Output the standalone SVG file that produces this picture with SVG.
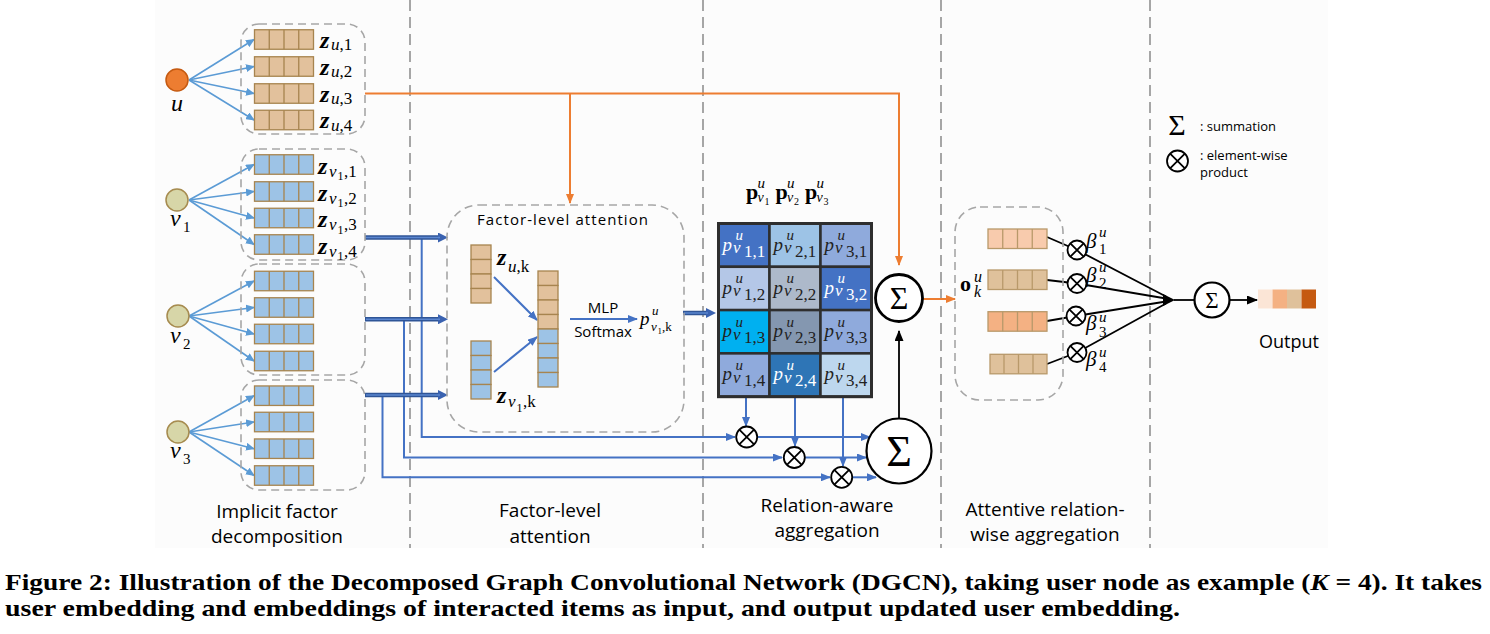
<svg xmlns="http://www.w3.org/2000/svg" xmlns:xlink="http://www.w3.org/1999/xlink" width="1490" height="634" viewBox="0 0 1490 634">
<style>
.dash{fill:none;stroke:#A6A6A6;stroke-width:1.6;stroke-dasharray:8 5}
.vdash{fill:none;stroke:#A6A6A6;stroke-width:2;stroke-dasharray:11 6}
.na{stroke:#5B9BD5;stroke-width:1.6;fill:none;marker-end:url(#ab)}
.thick{stroke:#2F5597;stroke-width:4.5;fill:none;marker-end:url(#at)}
.thin-in{stroke:#5B86D0;stroke-width:1.5;fill:none}
.link{stroke:#4472C4;stroke-width:2;fill:none}
.orange{stroke:#ED7D31;stroke-width:2;fill:none}
.blk{stroke:#000;stroke-width:1.8;fill:none}
.zb{font-family:"Liberation Serif","Times New Roman",Tinos,serif;font-weight:bold;font-style:italic;font-size:24px;fill:#000}
.mi{font-family:"Liberation Serif","Times New Roman",Tinos,serif;font-style:italic;fill:#000}
.mr{font-family:"Liberation Serif","Times New Roman",Tinos,serif;font-style:normal}
.sans{font-family:"Open Sans","Liberation Sans",sans-serif;fill:#000}
.lab{font-family:"Open Sans","Liberation Sans",sans-serif;font-size:19px;fill:#000;text-anchor:middle}
.cell{stroke:#2E2E2E;stroke-width:2.5}
.ct{font-family:"Liberation Serif","Times New Roman",Tinos,serif;font-style:italic;font-size:19px}
.sig{font-family:"Liberation Serif","Times New Roman",Tinos,serif;text-anchor:middle;fill:#000}
.cap{font-family:"Liberation Serif","Times New Roman",Tinos,serif;font-weight:bold;font-size:24px;fill:#000}
.hb{font-family:"Liberation Serif","Times New Roman",Tinos,serif;font-weight:bold;font-size:22px}
</style>
<defs>
<marker id="ab" markerUnits="userSpaceOnUse" markerWidth="9" markerHeight="8" refX="8" refY="4" orient="auto"><path d="M0,0 L9,4 L0,8 z" fill="#5B9BD5"/></marker>
<marker id="al" markerUnits="userSpaceOnUse" markerWidth="10" markerHeight="8" refX="9" refY="4" orient="auto"><path d="M0,0 L10,4 L0,8 z" fill="#4472C4"/></marker>
<marker id="ao" markerUnits="userSpaceOnUse" markerWidth="10" markerHeight="8" refX="9" refY="4" orient="auto"><path d="M0,0 L10,4 L0,8 z" fill="#ED7D31"/></marker>
<marker id="ak" markerUnits="userSpaceOnUse" markerWidth="11" markerHeight="9" refX="10" refY="4.5" orient="auto"><path d="M0,0 L11,4.5 L0,9 z" fill="#000"/></marker>
<marker id="at" markerUnits="userSpaceOnUse" markerWidth="10" markerHeight="10" refX="2" refY="5" orient="auto"><path d="M0,0 L10,5 L0,10 z" fill="#3A62B0"/></marker>
<g id="vt">
<rect x="0" y="0" width="59" height="19.5" fill="#E2C19C" stroke="#A7844F" stroke-width="1.3"/>
<path d="M14.75,0 V19.5 M29.5,0 V19.5 M44.25,0 V19.5" stroke="#A7844F" stroke-width="1.3"/>
</g>
<g id="vb">
<rect x="0" y="0" width="59" height="19.5" fill="#9DC3E6" stroke="#A7844F" stroke-width="1.3"/>
<path d="M14.75,0 V19.5 M29.5,0 V19.5 M44.25,0 V19.5" stroke="#A7844F" stroke-width="1.3"/>
</g>
<g id="ot">
<circle cx="0" cy="0" r="10.5" fill="#fff" stroke="#000" stroke-width="1.8"/>
<path d="M-7.4,-7.4 L7.4,7.4 M-7.4,7.4 L7.4,-7.4" stroke="#000" stroke-width="1.8"/>
</g>
<g id="ots">
<circle cx="0" cy="0" r="9.5" fill="#fff" stroke="#000" stroke-width="1.8"/>
<path d="M-6.7,-6.7 L6.7,6.7 M-6.7,6.7 L6.7,-6.7" stroke="#000" stroke-width="1.8"/>
</g>
</defs>

<rect x="0" y="0" width="1490" height="634" fill="#fff"/>
<rect x="155" y="0" width="1173" height="548" fill="#FCFCFC"/>

<g id="separators">
<line class="vdash" x1="410" y1="0" x2="410" y2="548"/>
<line class="vdash" x1="703" y1="0" x2="703" y2="548"/>
<line class="vdash" x1="941" y1="0" x2="941" y2="548"/>
<line class="vdash" x1="1150" y1="0" x2="1150" y2="548"/>
</g>

<g id="connectors">
<path class="na" d="M189,80 L254,39.5"/>
<path class="na" d="M189,80 L254,66.5"/>
<path class="na" d="M189,80 L254,93.5"/>
<path class="na" d="M189,80 L254,120"/>
<path class="na" d="M189,200 L254,164.5"/>
<path class="na" d="M189,200 L254,191.5"/>
<path class="na" d="M189,200 L254,218"/>
<path class="na" d="M189,200 L254,244.5"/>
<path class="na" d="M189,316 L254,281"/>
<path class="na" d="M189,316 L254,307.5"/>
<path class="na" d="M189,316 L254,334"/>
<path class="na" d="M189,316 L254,361"/>
<path class="na" d="M189,432 L254,395.7"/>
<path class="na" d="M189,432 L254,422"/>
<path class="na" d="M189,432 L254,448.7"/>
<path class="na" d="M189,432 L254,475.5"/>
<path class="orange" d="M365,93.5 H899 V265" marker-end="url(#ao)"/>
<path class="orange" d="M570,93.5 V203" marker-end="url(#ao)"/>
<path class="orange" d="M923,299 H955" marker-end="url(#ao)"/>
<path class="link" d="M421.7,237.5 V437 H735" marker-end="url(#al)"/>
<path class="link" d="M404,319.3 V457.5 H782" marker-end="url(#al)"/>
<path class="link" d="M382.5,395 V477.3 H830" marker-end="url(#al)"/>
<path class="thick" d="M365,237.5 H440"/>
<path class="thick" d="M365,319.3 H440"/>
<path class="thick" d="M365,395 H440"/>
<path class="thick" d="M683,313 H708"/>
<path class="thin-in" d="M366,237.5 H440 M366,319.3 H440 M366,395 H440 M684,313 H708"/>
<path class="link" stroke-width="1.6" d="M494,277 L537,320" marker-end="url(#al)"/>
<path class="link" stroke-width="1.6" d="M494,372 L537,337" marker-end="url(#al)"/>
<path class="link" stroke-width="1.6" d="M570,319 H637" marker-end="url(#al)"/>
<path class="link" stroke-width="1.4" d="M746,397 V426" marker-end="url(#al)"/>
<path class="link" stroke-width="1.4" d="M795,397 V446" marker-end="url(#al)"/>
<path class="link" stroke-width="1.4" d="M843,397 V466" marker-end="url(#al)"/>
<path class="link" d="M757,437 H870" marker-end="url(#al)"/>
<path class="link" d="M805,457.5 H866" marker-end="url(#al)"/>
<path class="link" d="M852,477.3 H876" marker-end="url(#al)"/>
<path class="blk" d="M899,418.5 V331" marker-end="url(#ak)"/>
<path class="blk" stroke-width="1.6" d="M1047,237 L1077,250 L1166,296.5"/>
<path class="blk" stroke-width="1.6" d="M1047,280 L1077,283.5 L1166,298.5"/>
<path class="blk" stroke-width="1.6" d="M1047,321 L1076,316 L1166,301.5"/>
<path class="blk" stroke-width="1.6" d="M1047,364 L1077,352.5 L1166,303.5"/>
<path d="M1163,294 L1175,300 L1163,306 z" fill="#000"/>
<path class="blk" d="M1174,300 H1194"/>
<path class="blk" d="M1230,300 H1257" marker-end="url(#ak)"/>
</g>

<g id="node-u">
<rect class="dash" x="241" y="24" width="124" height="110" rx="18"/>
<circle cx="177" cy="80" r="11" fill="#ED7D31" stroke="#C55A11" stroke-width="1.5"/>
<text class="mi" x="177" y="111" font-size="24" text-anchor="middle">u</text>
<use xlink:href="#vt" x="254.5" y="29.75"/>
<use xlink:href="#vt" x="254.5" y="56.75"/>
<use xlink:href="#vt" x="254.5" y="83.75"/>
<use xlink:href="#vt" x="254.5" y="110.25"/>
<text class="zb" x="320" y="47.5">z</text><text class="mi" x="331" y="50" font-size="17">u<tspan class="mr">,1</tspan></text>
<text class="zb" x="320" y="74.5">z</text><text class="mi" x="331" y="77" font-size="17">u<tspan class="mr">,2</tspan></text>
<text class="zb" x="320" y="101.5">z</text><text class="mi" x="331" y="104" font-size="17">u<tspan class="mr">,3</tspan></text>
<text class="zb" x="320" y="128">z</text><text class="mi" x="331" y="130.5" font-size="17">u<tspan class="mr">,4</tspan></text>
</g>

<g id="node-v1">
<rect class="dash" x="241" y="149" width="124" height="111" rx="18"/>
<circle cx="177" cy="200" r="11" fill="#D7D6A8" stroke="#A68B4F" stroke-width="1.5"/>
<text class="mi" x="170" y="226" font-size="24">ν</text><text class="mr" x="183" y="232" font-size="15">1</text>
<use xlink:href="#vb" x="254.5" y="154.75"/>
<use xlink:href="#vb" x="254.5" y="181.75"/>
<use xlink:href="#vb" x="254.5" y="208.25"/>
<use xlink:href="#vb" x="254.5" y="234.75"/>
<text class="zb" x="318" y="173.5">z</text><text class="mi" x="329" y="176.5" font-size="17">ν</text><text class="mr" x="337.5" y="180" font-size="12">1</text><text class="mr" x="344" y="176.5" font-size="17">,1</text>
<text class="zb" x="318" y="200.5">z</text><text class="mi" x="329" y="203.5" font-size="17">ν</text><text class="mr" x="337.5" y="207" font-size="12">1</text><text class="mr" x="344" y="203.5" font-size="17">,2</text>
<text class="zb" x="318" y="227">z</text><text class="mi" x="329" y="230" font-size="17">ν</text><text class="mr" x="337.5" y="233.5" font-size="12">1</text><text class="mr" x="344" y="230" font-size="17">,3</text>
<text class="zb" x="318" y="253.5">z</text><text class="mi" x="329" y="256.5" font-size="17">ν</text><text class="mr" x="337.5" y="260" font-size="12">1</text><text class="mr" x="344" y="256.5" font-size="17">,4</text>
</g>

<g id="node-v2">
<rect class="dash" x="241" y="264" width="124" height="111" rx="18"/>
<circle cx="178" cy="316" r="11" fill="#D7D6A8" stroke="#A68B4F" stroke-width="1.5"/>
<text class="mi" x="170" y="343" font-size="24">ν</text><text class="mr" x="183" y="349" font-size="15">2</text>
<use xlink:href="#vb" x="254.5" y="271.25"/>
<use xlink:href="#vb" x="254.5" y="297.75"/>
<use xlink:href="#vb" x="254.5" y="324.25"/>
<use xlink:href="#vb" x="254.5" y="351.25"/>
</g>

<g id="node-v3">
<rect class="dash" x="241" y="380" width="124" height="110" rx="18"/>
<circle cx="178" cy="432" r="11" fill="#D7D6A8" stroke="#A68B4F" stroke-width="1.5"/>
<text class="mi" x="170" y="458" font-size="24">ν</text><text class="mr" x="183" y="464" font-size="15">3</text>
<use xlink:href="#vb" x="254.5" y="385.95"/>
<use xlink:href="#vb" x="254.5" y="412.25"/>
<use xlink:href="#vb" x="254.5" y="438.95"/>
<use xlink:href="#vb" x="254.5" y="465.75"/>
</g>

<g id="factor-attention">
<rect class="dash" x="447" y="205" width="237" height="227" rx="32"/>
<text class="sans" x="477" y="225" font-size="15" textLength="171">Factor-level  attention</text>
<g stroke="#A7844F" stroke-width="1.3">
<rect x="471" y="245" width="20" height="14.5" fill="#E2C19C"/>
<rect x="471" y="259.5" width="20" height="14.5" fill="#E2C19C"/>
<rect x="471" y="274" width="20" height="14.5" fill="#E2C19C"/>
<rect x="471" y="288.5" width="20" height="14.5" fill="#E2C19C"/>
<rect x="471" y="341" width="20" height="14.5" fill="#9DC3E6"/>
<rect x="471" y="355.5" width="20" height="14.5" fill="#9DC3E6"/>
<rect x="471" y="370" width="20" height="14.5" fill="#9DC3E6"/>
<rect x="471" y="384.5" width="20" height="14.5" fill="#9DC3E6"/>
<rect x="538" y="271" width="20" height="14.5" fill="#E2C19C"/>
<rect x="538" y="285.5" width="20" height="14.5" fill="#E2C19C"/>
<rect x="538" y="300" width="20" height="14.5" fill="#E2C19C"/>
<rect x="538" y="314.5" width="20" height="14.5" fill="#E2C19C"/>
<rect x="538" y="329" width="20" height="14.5" fill="#9DC3E6"/>
<rect x="538" y="343.5" width="20" height="14.5" fill="#9DC3E6"/>
<rect x="538" y="358" width="20" height="14.5" fill="#9DC3E6"/>
<rect x="538" y="372.5" width="20" height="14.5" fill="#9DC3E6"/>
</g>
<text class="zb" x="497" y="265">z</text><text class="mi" x="508" y="272" font-size="17">u<tspan class="mr">,k</tspan></text>
<text class="zb" x="497" y="403">z</text><text class="mi" x="508" y="407" font-size="17">ν</text><text class="mr" x="516.5" y="411.5" font-size="12">1</text><text class="mr" x="523" y="407" font-size="17">,k</text>
<text class="sans" x="603" y="313" font-size="15" text-anchor="middle">MLP</text>
<text class="sans" x="603" y="337" font-size="15" text-anchor="middle">Softmax</text>
<text class="mi" x="640" y="325" font-size="19">p</text>
<text class="mi" x="652" y="315" font-size="13">u</text>
<text class="mi" x="651" y="331" font-size="13">ν</text><text class="mr" x="657.5" y="334" font-size="9">1</text><text class="mr" x="662" y="331" font-size="13">,k</text>
</g>

<g id="matrix">
<text class="hb" x="746" y="199">p</text>
<text class="mi" x="757.5" y="188" font-size="15">u</text><text class="mi" x="757.5" y="202" font-size="14">ν</text><text class="mr" x="764.5" y="205" font-size="10">1</text>
<text class="hb" x="775.5" y="199">p</text>
<text class="mi" x="787" y="188" font-size="15">u</text><text class="mi" x="787" y="202" font-size="14">ν</text><text class="mr" x="794" y="205" font-size="10">2</text>
<text class="hb" x="805" y="199">p</text>
<text class="mi" x="816.5" y="188" font-size="15">u</text><text class="mi" x="816.5" y="202" font-size="14">ν</text><text class="mr" x="823.5" y="205" font-size="10">3</text>

<rect class="cell" x="718.5" y="223.5" width="51" height="43.3" fill="#4472C4"/>
<rect class="cell" x="769.5" y="223.5" width="51" height="43.3" fill="#9DC3E6"/>
<rect class="cell" x="820.5" y="223.5" width="51" height="43.3" fill="#8FAADC"/>
<rect class="cell" x="718.5" y="266.8" width="51" height="43.3" fill="#B4C7E7"/>
<rect class="cell" x="769.5" y="266.8" width="51" height="43.3" fill="#ADB9CA"/>
<rect class="cell" x="820.5" y="266.8" width="51" height="43.3" fill="#4472C4"/>
<rect class="cell" x="718.5" y="310.1" width="51" height="43.3" fill="#00B0F0"/>
<rect class="cell" x="769.5" y="310.1" width="51" height="43.3" fill="#8497B0"/>
<rect class="cell" x="820.5" y="310.1" width="51" height="43.3" fill="#8FAADC"/>
<rect class="cell" x="718.5" y="353.4" width="51" height="43.3" fill="#8FAADC"/>
<rect class="cell" x="769.5" y="353.4" width="51" height="43.3" fill="#2E75B6"/>
<rect class="cell" x="820.5" y="353.4" width="51" height="43.3" fill="#BDD7EE"/>
<rect x="718.5" y="223.5" width="153" height="173.2" fill="none" stroke="#2E2E2E" stroke-width="3"/>

<text class="ct" fill="#fff"><tspan x="722.5" y="250.5">p</tspan><tspan x="733" y="253" font-size="17">v</tspan><tspan x="735.5" y="240" font-size="15">u</tspan><tspan x="744" y="256.5" font-size="17" font-style="normal">1,1</tspan></text>
<text class="ct" fill="#222"><tspan x="773.5" y="250.5">p</tspan><tspan x="784" y="253" font-size="17">v</tspan><tspan x="786.5" y="240" font-size="15">u</tspan><tspan x="795" y="256.5" font-size="17" font-style="normal">2,1</tspan></text>
<text class="ct" fill="#222"><tspan x="824.5" y="250.5">p</tspan><tspan x="835" y="253" font-size="17">v</tspan><tspan x="837.5" y="240" font-size="15">u</tspan><tspan x="846" y="256.5" font-size="17" font-style="normal">3,1</tspan></text>

<text class="ct" fill="#222"><tspan x="722.5" y="293.8">p</tspan><tspan x="733" y="296.3" font-size="17">v</tspan><tspan x="735.5" y="283.3" font-size="15">u</tspan><tspan x="744" y="299.8" font-size="17" font-style="normal">1,2</tspan></text>
<text class="ct" fill="#222"><tspan x="773.5" y="293.8">p</tspan><tspan x="784" y="296.3" font-size="17">v</tspan><tspan x="786.5" y="283.3" font-size="15">u</tspan><tspan x="795" y="299.8" font-size="17" font-style="normal">2,2</tspan></text>
<text class="ct" fill="#fff"><tspan x="824.5" y="293.8">p</tspan><tspan x="835" y="296.3" font-size="17">v</tspan><tspan x="837.5" y="283.3" font-size="15">u</tspan><tspan x="846" y="299.8" font-size="17" font-style="normal">3,2</tspan></text>

<text class="ct" fill="#222"><tspan x="722.5" y="337.1">p</tspan><tspan x="733" y="339.6" font-size="17">v</tspan><tspan x="735.5" y="326.6" font-size="15">u</tspan><tspan x="744" y="343.1" font-size="17" font-style="normal">1,3</tspan></text>
<text class="ct" fill="#222"><tspan x="773.5" y="337.1">p</tspan><tspan x="784" y="339.6" font-size="17">v</tspan><tspan x="786.5" y="326.6" font-size="15">u</tspan><tspan x="795" y="343.1" font-size="17" font-style="normal">2,3</tspan></text>
<text class="ct" fill="#222"><tspan x="824.5" y="337.1">p</tspan><tspan x="835" y="339.6" font-size="17">v</tspan><tspan x="837.5" y="326.6" font-size="15">u</tspan><tspan x="846" y="343.1" font-size="17" font-style="normal">3,3</tspan></text>

<text class="ct" fill="#222"><tspan x="722.5" y="380.4">p</tspan><tspan x="733" y="382.9" font-size="17">v</tspan><tspan x="735.5" y="369.9" font-size="15">u</tspan><tspan x="744" y="386.4" font-size="17" font-style="normal">1,4</tspan></text>
<text class="ct" fill="#fff"><tspan x="773.5" y="380.4">p</tspan><tspan x="784" y="382.9" font-size="17">v</tspan><tspan x="786.5" y="369.9" font-size="15">u</tspan><tspan x="795" y="386.4" font-size="17" font-style="normal">2,4</tspan></text>
<text class="ct" fill="#222"><tspan x="824.5" y="380.4">p</tspan><tspan x="835" y="382.9" font-size="17">v</tspan><tspan x="837.5" y="369.9" font-size="15">u</tspan><tspan x="846" y="386.4" font-size="17" font-style="normal">3,4</tspan></text>
</g>

<g id="products">
<use xlink:href="#ot" x="746.7" y="437"/>
<use xlink:href="#ot" x="794.3" y="457.5"/>
<use xlink:href="#ot" x="841.7" y="477.3"/>
</g>

<g id="sum-agg">
<circle cx="899" cy="451" r="32.5" fill="#fff" stroke="#000" stroke-width="2.2"/>
<text class="sig" x="899" y="466" font-size="44">Σ</text>
</g>

<g id="sum-user">
<circle cx="899" cy="298" r="23.5" fill="#fff" stroke="#000" stroke-width="2.8"/>
<text class="sig" x="899" y="309" font-size="32">Σ</text>
</g>

<g id="relation-factors">
<rect class="dash" x="955" y="207" width="108" height="193" rx="25"/>
<g stroke="#B8996A" stroke-width="1.3">
<rect x="988" y="229" width="59" height="19.5" fill="#F8CBAD"/>
<rect x="988" y="270" width="59" height="19.5" fill="#DFC19B"/>
<rect x="988" y="311.7" width="59" height="19.5" fill="#F4B183"/>
<rect x="990" y="354.3" width="57" height="19.5" fill="#DFC19B"/>
<path d="M1002.75,229 V248.5 M1017.5,229 V248.5 M1032.25,229 V248.5 M1002.75,270 V289.5 M1017.5,270 V289.5 M1032.25,270 V289.5 M1002.75,311.7 V331.2 M1017.5,311.7 V331.2 M1032.25,311.7 V331.2 M1004,354.3 V373.8 M1018.5,354.3 V373.8 M1033,354.3 V373.8" fill="none"/>
</g>
<text class="hb" x="960" y="291" font-size="23">o</text>
<text class="mi" x="974" y="282" font-size="16">u</text>
<text class="mi" x="974" y="297" font-size="16">k</text>
</g>

<g id="attention-weights">
<use xlink:href="#ots" x="1077" y="250"/>
<use xlink:href="#ots" x="1077" y="283.5"/>
<use xlink:href="#ots" x="1076" y="316"/>
<use xlink:href="#ots" x="1077" y="352.5"/>
<text class="mi" x="1086" y="248" font-size="21">β</text><text class="mi" x="1099" y="237" font-size="15">u</text><text class="mr" x="1099" y="254" font-size="15">1</text>
<text class="mi" x="1086" y="282" font-size="21">β</text><text class="mi" x="1099" y="272" font-size="15">u</text><text class="mr" x="1099" y="288" font-size="15">2</text>
<text class="mi" x="1086" y="330" font-size="21">β</text><text class="mi" x="1099" y="322" font-size="15">u</text><text class="mr" x="1099" y="337" font-size="15">3</text>
<text class="mi" x="1086" y="366" font-size="21">β</text><text class="mi" x="1099" y="357" font-size="15">u</text><text class="mr" x="1099" y="372" font-size="15">4</text>
</g>

<g id="sum-output">
<circle cx="1212" cy="300" r="17.5" fill="#fff" stroke="#000" stroke-width="2.2"/>
<text class="sig" x="1212" y="308" font-size="23">Σ</text>
</g>

<g id="output">
<rect x="1258" y="289.5" width="14.5" height="19" fill="#FBE5D6"/>
<rect x="1272.5" y="289.5" width="14.5" height="19" fill="#F4B183"/>
<rect x="1287" y="289.5" width="14.5" height="19" fill="#DFC19B"/>
<rect x="1301.5" y="289.5" width="14.5" height="19" fill="#C55A11"/>
<text class="sans" x="1289" y="348" font-size="18" text-anchor="middle">Output</text>
</g>

<g id="legend">
<text class="sig" x="1177" y="135" font-size="30">Σ</text>
<text class="sans" x="1200" y="130.5" font-size="13">: summation</text>
<use xlink:href="#ot" x="1177.5" y="161"/>
<text class="sans" x="1200" y="160" font-size="13">: element-wise</text>
<text class="sans" x="1200" y="176.5" font-size="13">product</text>
</g>

<g id="section-labels">
<text class="lab" x="277" y="518">Implicit factor</text>
<text class="lab" x="277" y="543">decomposition</text>
<text class="lab" x="550" y="517">Factor-level</text>
<text class="lab" x="550" y="543">attention</text>
<text class="lab" x="827" y="512">Relation-aware</text>
<text class="lab" x="827" y="537">aggregation</text>
<text class="lab" x="1045" y="516">Attentive relation-</text>
<text class="lab" x="1045" y="541">wise aggregation</text>
</g>

<g id="caption">
<text class="cap" x="5" y="590" textLength="1477" lengthAdjust="spacingAndGlyphs">Figure 2: Illustration of the Decomposed Graph Convolutional Network (DGCN), taking user node as example (<tspan font-style="italic">K</tspan> = 4). It takes</text>
<text class="cap" x="5" y="616" textLength="1175" lengthAdjust="spacingAndGlyphs">user embedding and embeddings of interacted items as input, and output updated user embedding.</text>
</g>
</svg>
